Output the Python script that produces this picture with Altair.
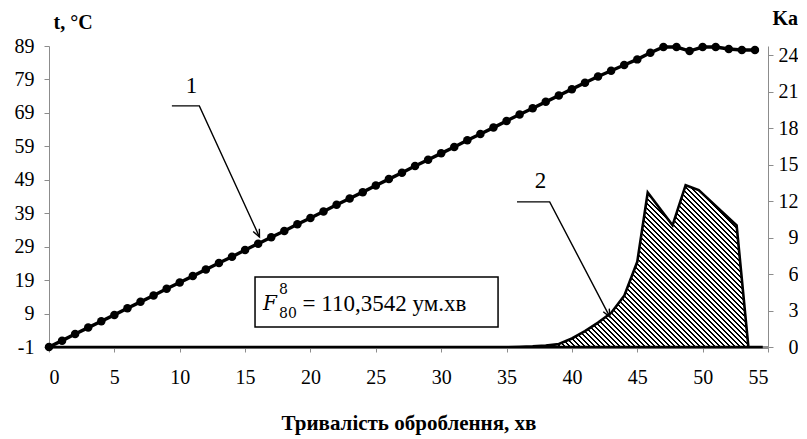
import altair as alt
import pandas as pd

# ---------------- data ----------------
minutes = list(range(0, 55))
temp = [-1.0, 0.9, 2.9, 4.8, 6.7, 8.6, 10.6, 12.5, 14.4, 16.4, 18.3, 20.2, 22.2, 24.1,
        26.0, 28.0, 29.9, 31.8, 33.7, 35.7, 37.6, 39.5, 41.5, 43.4, 45.3, 47.3, 49.2,
        51.1, 53.1, 55.0, 56.9, 58.8, 60.8, 62.7, 64.6, 66.6, 68.5, 70.4, 72.3, 74.2,
        76.1, 78.0, 79.9, 81.6, 83.3, 85.0, 87.0, 88.7, 88.7, 87.5, 88.7, 88.7, 88.1,
        87.8, 87.8]

ka_min = [0, 35, 36, 37, 38, 39, 40, 41, 42, 43, 44, 45, 45.8, 47.7, 48.7, 49.7, 52.6, 53.5, 54.6]
ka_val = [0, 0, 0.02, 0.05, 0.12, 0.25, 0.7, 1.3, 2.0, 2.8, 4.2, 7.0, 12.7, 10.0, 13.3, 12.9, 10.0, 0, 0]

x_ticks = list(range(0, 60, 5))
t_ticks = [-1, 9, 19, 29, 39, 49, 59, 69, 79, 89]
ka_ticks = [0, 3, 6, 9, 12, 15, 18, 21, 24]

# annotation leader lines (in data units: minutes, °C)
ann1_x = [9.4, 11.5, 16.1]
ann1_y = [71.1, 71.1, 31.9]
ann2_x = [35.8, 38.3, 42.9]
ann2_y = [42.4, 42.4, 8.0]
labels_txt = ["1", "2"]
labels_x = [10.9, 37.6]
labels_y = [77.0, 48.6]

box_x = [15.76]
box_x2 = [34.35]
box_y = [19.9]
box_y2 = [5.0]

# ---------------- layout ----------------
PLOT_W = 719
PLOT_H = 301
T_DOM = [-1, 89]
KA_DOM = [0, 24.74]
SERIF = "'Liberation Serif', 'Times New Roman', 'DejaVu Serif', serif"
GRAY = "#8c8c8c"

xs = alt.Scale(domain=[0, 55], nice=False, zero=False)
ts = alt.Scale(domain=T_DOM, nice=False, zero=False)
ks = alt.Scale(domain=KA_DOM, nice=False, zero=False)

x_axis = alt.Axis(values=x_ticks, tickSize=5, tickColor=GRAY, domainColor=GRAY,
                  domainWidth=3, labelFont=SERIF, labelFontSize=20, labelColor="black",
                  labelPadding=15, grid=False, title="Тривалість оброблення, хв",
                  titleFont=SERIF, titleFontSize=21, titleFontWeight="bold",
                  titleColor="black", titleY=76, titleBaseline="middle")

t_axis = alt.Axis(orient="left", values=t_ticks, tickSize=5, tickColor=GRAY,
                  domainColor=GRAY, labelFont=SERIF, labelFontSize=20,
                  labelColor="black", labelPadding=10, grid=False, title="t, °C",
                  labelExpr="datum.value < 0 ? '-' + abs(datum.value) : datum.label",
                  titleFont=SERIF, titleFontSize=20, titleFontWeight="bold",
                  titleColor="black", titleAngle=0, titleAlign="left",
                  titleBaseline="middle", titleX=4, titleY=-24)

ka_axis = alt.Axis(orient="right", values=ka_ticks, tickSize=5, tickColor=GRAY,
                   domainColor=GRAY, labelFont=SERIF, labelFontSize=20,
                   labelColor="black", labelAlign="right", labelPadding=25, grid=False,
                   title="Ka", titleFont=SERIF, titleFontSize=20, titleFontWeight="bold",
                   titleColor="black", titleAngle=0, titleAlign="left",
                   titleBaseline="middle", titleX=4, titleY=-28)

X = lambda f: alt.X(f, scale=xs, axis=x_axis, title="Тривалість оброблення, хв")
T = lambda f: alt.Y(f, scale=ts, axis=t_axis, title="t, °C")

# ---------------- hatch fill as a striped linear gradient ----------------
W = (max(ka_min) - min(ka_min)) / 55 * PLOT_W
H = max(ka_val) / KA_DOM[1] * PLOT_H
k = (W + H) / (W * W + H * H)
period_px = 5.0
N = int(round((W + H) / period_px))
p = 1.0 / N
stops = []
for i in range(N):
    a = i * p
    b = a + 0.45 * p
    c = (i + 1) * p
    stops += [{"offset": round(a, 6), "color": "black"},
              {"offset": round(b, 6), "color": "black"},
              {"offset": round(b, 6), "color": "white"},
              {"offset": round(min(c, 1.0), 6), "color": "white"}]
hatch = {"gradient": "linear", "x1": 0, "y1": 1, "x2": W * k, "y2": 1 - H * k,
         "stops": stops}

# ---------------- layers ----------------
ka_df = pd.DataFrame({"min": ka_min, "ka": ka_val})
area = alt.Chart(ka_df).mark_area(fill=hatch, stroke="black", strokeWidth=2.6,
                                  strokeJoin="miter").encode(
    x=X("min:Q"),
    y=alt.Y("ka:Q", scale=ks, axis=ka_axis, title="Ka"),
)

t_df = pd.DataFrame({"min": minutes, "t": temp})
line = alt.Chart(t_df).mark_line(color="black", strokeWidth=3.4,
                                 point=alt.OverlayMarkDef(filled=True, size=72,
                                                          color="black")).encode(
    x=X("min:Q"),
    y=T("t:Q"),
)

ann_df = pd.DataFrame({"min": ann1_x + ann2_x, "t": ann1_y + ann2_y,
                       "g": ["a"] * 3 + ["b"] * 3})
leaders = alt.Chart(ann_df).mark_line(color="black", strokeWidth=1.4).encode(
    x=X("min:Q"), y=T("t:Q"), detail="g:N",
)

tips_df = pd.DataFrame({"min": [ann1_x[-1], ann2_x[-1]], "t": [ann1_y[-1], ann2_y[-1]],
                        "ang": [65.0, 62.0]})
tips = alt.Chart(tips_df).mark_point(shape="M -1 -0.45 L 0 0 L -1 0.45", filled=False,
                                     stroke="black", strokeWidth=1.4, size=230,
                                     opacity=1).encode(
    x=X("min:Q"), y=T("t:Q"),
    angle=alt.Angle("ang:Q", scale=None),
)

lab_df = pd.DataFrame({"min": labels_x, "t": labels_y, "txt": labels_txt})
labs = alt.Chart(lab_df).mark_text(font=SERIF, fontSize=23, color="black",
                                   baseline="middle", align="center").encode(
    x=X("min:Q"), y=T("t:Q"), text="txt:N",
)

box_df = pd.DataFrame({"min": box_x, "x2": box_x2, "t": box_y, "y2": box_y2})
box = alt.Chart(box_df).mark_rect(fill="white", stroke="black", strokeWidth=1.5).encode(
    x=X("min:Q"), x2="x2:Q", y=T("t:Q"), y2="y2:Q",
)

f_df = pd.DataFrame({"min": [16.37], "t": [12.0], "txt": ["F"]})
f_main = alt.Chart(f_df).mark_text(font="DejaVu Serif", fontStyle="italic", fontSize=20,
                                   color="black", align="left", baseline="middle").encode(
    x=X("min:Q"), y=T("t:Q"), text="txt:N")

sup_df = pd.DataFrame({"min": [17.6, 17.6], "t": [16.0, 8.9], "txt": ["8", "80"]})
f_idx = alt.Chart(sup_df).mark_text(font="DejaVu Serif", fontSize=14, color="black",
                                    align="left", baseline="middle").encode(
    x=X("min:Q"), y=T("t:Q"), text="txt:N")

val_df = pd.DataFrame({"min": [19.4], "t": [12.0], "txt": ["=  110,3542 ум.хв"]})
f_val = alt.Chart(val_df).mark_text(font=SERIF, fontSize=23, color="black",
                                    align="left", baseline="middle").encode(
    x=X("min:Q"), y=T("t:Q"), text="txt:N")

left = alt.layer(line, leaders, tips, labs, box, f_main, f_idx, f_val)

chart = alt.layer(area, left).resolve_scale(y="independent").properties(
    width=PLOT_W, height=PLOT_H,
    autosize=alt.AutoSizeParams(type="none"),
    padding={"left": 41, "top": 38, "right": 30, "bottom": 91},
    background="white",
).configure_view(stroke=None).configure_axis(
    labelFont=SERIF, titleFont=SERIF
).configure_text(font=SERIF)

chart.save("out.html", embed_options={"renderer": "svg", "actions": False})
